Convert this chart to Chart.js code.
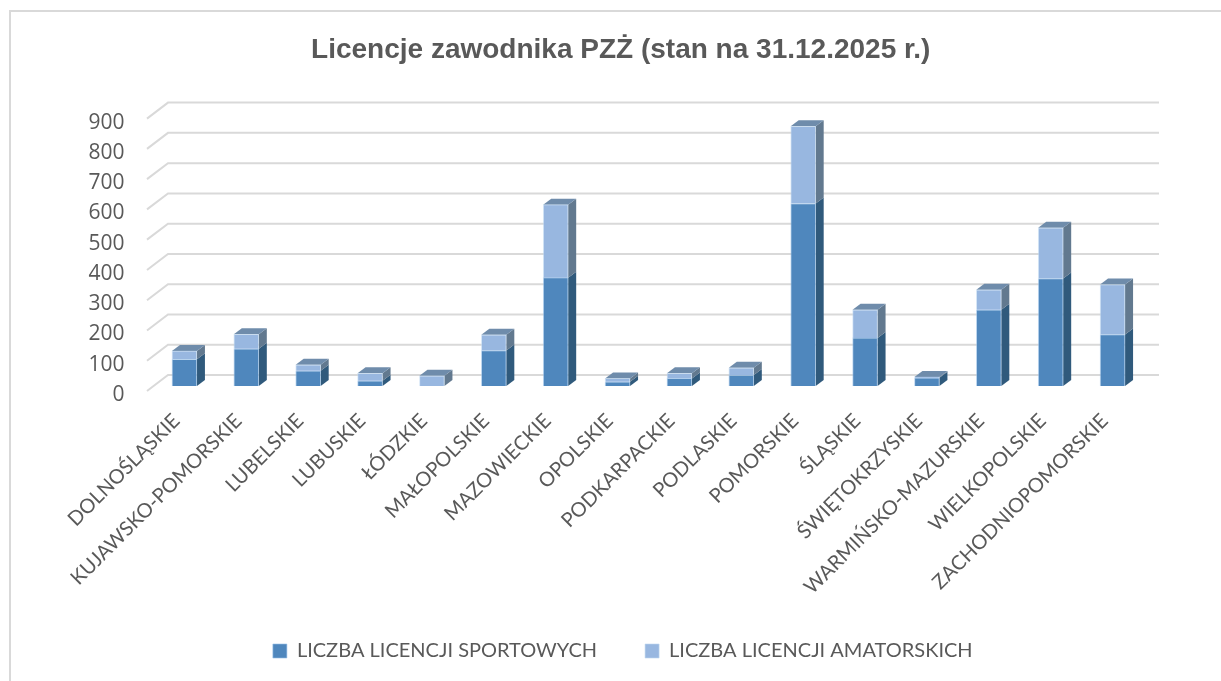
<!DOCTYPE html>
<html>
<head>
<meta charset="utf-8">
<title>Licencje zawodnika PZŻ</title>
<script src="https://cdn.jsdelivr.net/npm/chart.js@4"></script>
<style>
  html, body { margin: 0; background: #fff; }
  canvas { display: block; }
</style>
</head>
<body>
<canvas id="licencje" width="1221" height="681"></canvas>
<script>
const categories = [
  "DOLNOŚLĄSKIE", "KUJAWSKO-POMORSKIE", "LUBELSKIE", "LUBUSKIE",
  "ŁÓDZKIE", "MAŁOPOLSKIE", "MAZOWIECKIE", "OPOLSKIE",
  "PODKARPACKIE", "PODLASKIE", "POMORSKIE", "ŚLĄSKIE",
  "ŚWIĘTOKRZYSKIE", "WARMIŃSKO-MAZURSKIE", "WIELKOPOLSKIE", "ZACHODNIOPOMORSKIE",
];
const sportowe = [88, 123, 50, 17, 0, 117, 358, 14, 25, 36, 603, 159, 27, 252, 355, 170];
const amatorskie = [28, 48, 20, 25, 34, 52, 241, 11, 17, 24, 255, 93, 3, 66, 168, 165];

const textColor = "#595959";
const gridColor = "#d9d9d9";

// pseudo 3D: walls, bar sides and tops hang off the library's scales
const depth = { dx: 8, dy: 6, wallX: 21, wallY: 16, wallShift: 4, floorShift: 9 };
const sideColors = ["#305a7c", "#62798f"];
const topColor = "#6f8cab";

function poly(ctx, pts, color) {
  ctx.fillStyle = color;
  ctx.beginPath();
  pts.forEach((p, i) => (i ? ctx.lineTo(p[0], p[1]) : ctx.moveTo(p[0], p[1])));
  ctx.closePath();
  ctx.fill();
}

const fake3d = {
  id: "fake3d",
  beforeDraw(chart) {
    const ctx = chart.ctx;
    ctx.save();
    ctx.strokeStyle = gridColor;
    ctx.lineWidth = 2;
    ctx.beginPath();
    ctx.moveTo(10, chart.height);
    ctx.lineTo(10, 11);
    ctx.lineTo(chart.width, 11);
    ctx.stroke();
    ctx.restore();
  },
  beforeDatasetsDraw(chart) {
    const ctx = chart.ctx;
    const area = chart.chartArea;
    const yScale = chart.scales.y;
    const wallLeft = area.left - 6.5;
    ctx.save();
    ctx.strokeStyle = gridColor;
    ctx.lineWidth = 2;
    yScale.ticks.forEach((t) => {
      const y = yScale.getPixelForValue(t.value) - depth.wallShift;
      ctx.beginPath();
      ctx.moveTo(wallLeft, y);
      ctx.lineTo(wallLeft + depth.wallX, y - depth.wallY);
      ctx.lineTo(area.right + 15.5, y - depth.wallY);
      ctx.stroke();
    });
    ctx.restore();

    // bars stand a little behind the front edge of the floor
    ctx.save();
    ctx.translate(0, -depth.floorShift);
    chart.data.datasets.forEach((ds, i) => {
      chart.getDatasetMeta(i).data.forEach((bar, j) => {
        if (!ds.data[j]) return;
        const r = bar.x + bar.width / 2;
        const l = bar.x - bar.width / 2;
        poly(ctx, [[r, bar.y], [r + depth.dx, bar.y - depth.dy], [r + depth.dx, bar.base - depth.dy], [r, bar.base]], sideColors[i]);
        if (i === chart.data.datasets.length - 1) {
          poly(ctx, [[l, bar.y], [l + depth.dx, bar.y - depth.dy], [r + depth.dx, bar.y - depth.dy], [r, bar.y]], topColor);
        }
      });
    });
  },
  afterDatasetsDraw(chart) {
    chart.ctx.restore();
  },
  afterLayout(chart) {
    // title and legend are centred on the plot, not on the whole canvas
    chart.titleBlock.left += 49;
    chart.titleBlock.right += 49;
    chart.legend.left += 51;
    chart.legend.right += 51;
    // legend sits inside the space the long axis labels also need
    chart.legend.top = 593;
  },
};

new Chart(document.getElementById("licencje"), {
  type: "bar",
  plugins: [fake3d],
  data: {
    labels: categories,
    datasets: [
      {
        label: "LICZBA LICENCJI SPORTOWYCH",
        data: sportowe,
        backgroundColor: "#4f87bd",
        borderColor: "rgba(150,190,230,0.6)",
        borderWidth: 1,
        barThickness: 25,
        clip: false,
      },
      {
        label: "LICZBA LICENCJI AMATORSKICH",
        data: amatorskie,
        backgroundColor: "#98b7e0",
        borderColor: "rgba(190,215,240,0.6)",
        borderWidth: 1,
        barThickness: 25,
        clip: false,
      },
    ],
  },
  options: {
    responsive: false,
    animation: false,
    layout: { padding: { left: 0, right: 77.5, top: 0, bottom: -22 } },
    plugins: {
      tooltip: { enabled: false },
      title: {
        display: true,
        text: "Licencje zawodnika PZŻ (stan na 31.12.2025 r.)",
        color: textColor,
        font: { family: "Liberation Sans", size: 28, weight: "bold" },
        padding: { top: 33, bottom: 56 },
      },
      legend: {
        position: "bottom",
        labels: {
          color: textColor,
          font: { family: "Lato", size: 20 },
          boxWidth: 14,
          boxHeight: 14,
          padding: 48,
        },
      },
    },
    scales: {
      x: {
        stacked: true,
        afterFit(scale) { scale.height = 230; },
        grid: { display: false },
        border: { display: false },
        ticks: {
          autoSkip: false,
          minRotation: 45,
          maxRotation: 45,
          padding: 6,
          labelOffset: -8,
          color: textColor,
          font: { family: "Lato", size: 20 },
        },
      },
      y: {
        stacked: true,
        min: 0,
        max: 900,
        afterFit(scale) { scale.width = 153.5; },
        grid: { display: false },
        border: { display: false },
        ticks: {
          stepSize: 100,
          padding: 21,
          color: textColor,
          font: { family: "Open Sans", size: 21 },
        },
      },
    },
  },
});
</script>
</body>
</html>
